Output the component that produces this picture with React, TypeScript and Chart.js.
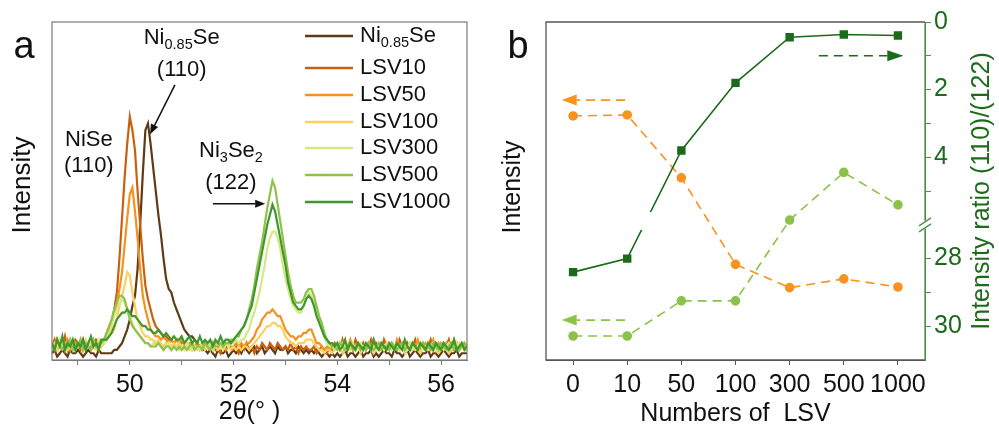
import React, { useEffect, useRef } from "react";
import { Chart, registerables } from "chart.js";

Chart.register(...registerables);

const FONT = '"Liberation Sans", Arimo, Arial, sans-serif';

// ---------------- Panel a : XRD patterns (2θ from 48.5°, step 0.05°) ----------------
const thetaStart = 48.5;
const thetaStep = 0.05;

const ni085Se = [
  2, 3, 1, 2, 3, 2, 1, 3, 2, 2,
  3, 2, 1, 2, 3, 2, 2, 1, 3, 2,
  2, 2, 2, 2, 3, 3, 4, 5, 7, 9,
  12, 16, 19, 27, 40, 55, 68, 70, 64, 57,
  50, 43, 37, 30, 24, 21, 20, 17, 15, 13,
  11, 9, 8, 7, 7, 6, 5, 4, 3, 3,
  2, 3, 2, 1, 3, 2, 2, 3, 1, 2,
  3, 2, 3, 2, 4, 3, 2, 3, 4, 2,
  3, 4, 2, 3, 4, 3, 2, 4, 3, 3,
  4, 2, 3, 3, 2, 4, 3, 2, 3, 2,
  3, 2, 3, 2, 1, 2, 2, 1, 2, 1,
  2, 1, 2, 3, 1, 2, 2, 1, 2, 3,
  1, 2, 2, 3, 1, 2, 1, 2, 3, 2,
  2, 1, 3, 2, 2, 1, 2, 3, 1, 2,
  3, 2, 1, 2, 2, 3, 1, 2, 2, 1,
  2, 3, 2, 1, 2, 2, 3, 1, 2, 2,
  2,
];
const lsv10 = [
  4, 6, 3, 5, 4, 7, 3, 5, 4, 6,
  5, 3, 6, 4, 5, 3, 4, 6, 5, 4,
  5, 6, 8, 11, 15, 20, 30, 42, 54, 64,
  72, 68, 62, 50, 40, 30, 22, 18, 15, 12,
  10, 9, 8, 7, 7, 6, 6, 5, 6, 5,
  5, 4, 5, 4, 3, 4, 5, 3, 4, 3,
  4, 3, 5, 3, 4, 2, 4, 3, 5, 3,
  3, 4, 2, 4, 3, 5, 3, 4, 2, 4,
  3, 5, 4, 3, 5, 4, 3, 5, 4, 3,
  4, 3, 5, 3, 4, 2, 4, 3, 4, 3,
  3, 4, 2, 3, 4, 3, 2, 4, 3, 5,
  4, 3, 6, 3, 4, 5, 3, 6, 4, 3,
  5, 3, 4, 6, 3, 5, 4, 3, 6, 4,
  3, 5, 4, 3, 6, 4, 3, 5, 3, 4,
  6, 3, 4, 5, 3, 4, 6, 3, 5, 4,
  3, 5, 4, 6, 3, 4, 5, 3, 4, 5,
  4,
];
const lsv50 = [
  5, 3, 6, 4, 5, 4, 6, 3, 5, 4,
  4, 6, 3, 5, 4, 6, 4, 5, 3, 5,
  6, 7, 9, 11, 14, 17, 21, 26, 34, 42,
  49, 51, 44, 36, 27, 19, 15, 12, 9, 8,
  7, 7, 6, 7, 6, 5, 6, 5, 6, 5,
  6, 5, 4, 5, 5, 4, 5, 4, 5, 4,
  4, 5, 3, 5, 4, 4, 5, 3, 4, 4,
  4, 5, 4, 5, 4, 5, 5, 6, 7, 9,
  10, 12, 13, 14, 14, 15, 14, 13, 13, 11,
  9, 8, 7, 7, 6, 7, 7, 8, 8, 9,
  9, 7, 5, 5, 4, 3, 4, 3, 4, 3,
  3, 4, 5, 3, 4, 6, 3, 4, 5, 3,
  4, 3, 5, 4, 6, 3, 4, 5, 3, 4,
  5, 4, 3, 6, 4, 5, 3, 4, 5, 3,
  4, 6, 3, 4, 5, 3, 4, 6, 3, 5,
  4, 3, 5, 4, 3, 6, 4, 3, 5, 4,
  3,
];
const lsv100 = [
  4, 5, 3, 6, 4, 5, 3, 4, 5, 3,
  5, 4, 3, 5, 4, 6, 4, 3, 5, 4,
  5, 6, 7, 8, 9, 12, 16, 19, 22, 26,
  25, 20, 16, 12, 10, 8, 7, 7, 6, 6,
  5, 6, 5, 4, 5, 5, 4, 5, 4, 5,
  4, 5, 4, 3, 5, 4, 3, 4, 5, 3,
  4, 3, 5, 4, 3, 4, 3, 5, 4, 3,
  4, 3, 4, 3, 4, 4, 3, 4, 5, 6,
  7, 8, 9, 10, 10, 11, 11, 10, 10, 9,
  7, 6, 5, 5, 4, 5, 5, 5, 6, 6,
  6, 5, 4, 3, 3, 2, 3, 3, 2, 3,
  3, 4, 2, 3, 4, 3, 5, 3, 4, 2,
  4, 3, 5, 3, 2, 4, 3, 4, 3, 5,
  3, 4, 3, 5, 3, 4, 2, 3, 4, 3,
  4, 3, 2, 4, 3, 5, 3, 4, 3, 2,
  3, 4, 3, 2, 4, 3, 5, 3, 4, 3,
  3,
];
const lsv300 = [
  4, 3, 5, 4, 6, 3, 5, 4, 3, 5,
  4, 5, 3, 6, 4, 3, 5, 4, 6, 4,
  5, 6, 8, 10, 13, 15, 17, 18, 17, 15,
  13, 11, 9, 8, 7, 6, 5, 5, 4, 5,
  4, 5, 4, 3, 4, 5, 3, 4, 4, 3,
  4, 3, 5, 4, 3, 4, 4, 3, 5, 4,
  4, 5, 3, 4, 5, 4, 3, 5, 4, 5,
  5, 6, 5, 6, 6, 8, 9, 12, 14, 17,
  20, 24, 28, 33, 36, 38, 38, 36, 33, 28,
  24, 21, 18, 16, 15, 14, 14, 16, 18, 20,
  19, 17, 14, 12, 9, 7, 5, 4, 4, 3,
  4, 3, 5, 4, 3, 5, 4, 3, 4, 5,
  3, 4, 5, 3, 4, 3, 5, 4, 3, 4,
  5, 3, 4, 4, 3, 5, 4, 3, 5, 4,
  3, 4, 5, 3, 4, 3, 4, 5, 3, 4,
  4, 3, 4, 5, 3, 4, 3, 5, 4, 3,
  4,
];
const lsv500 = [
  5, 3, 6, 4, 3, 5, 4, 6, 3, 5,
  4, 6, 3, 5, 4, 3, 6, 4, 5, 5,
  6, 8, 10, 12, 15, 17, 19, 19, 18, 15,
  12, 10, 9, 8, 7, 6, 5, 5, 4, 4,
  4, 5, 4, 3, 4, 4, 3, 4, 3, 4,
  3, 4, 3, 4, 5, 3, 4, 4, 3, 5,
  4, 3, 5, 4, 4, 5, 4, 5, 5, 6,
  6, 7, 7, 9, 10, 12, 15, 18, 22, 27,
  31, 35, 40, 45, 49, 53, 51, 46, 41, 36,
  31, 26, 22, 19, 17, 17, 17, 18, 20, 21,
  21, 19, 16, 13, 11, 8, 6, 5, 4, 4,
  3, 5, 4, 3, 4, 5, 3, 4, 5, 3,
  4, 3, 5, 4, 3, 4, 5, 3, 4, 4,
  3, 5, 4, 3, 4, 5, 3, 4, 3, 5,
  4, 3, 4, 5, 3, 4, 3, 5, 4, 3,
  5, 4, 3, 4, 5, 3, 4, 3, 4, 5,
  4,
];
const lsv1000 = [
  5, 3, 6, 4, 7, 3, 5, 4, 6, 3,
  5, 4, 6, 3, 5, 7, 4, 5, 3, 6,
  6, 6, 7, 8, 10, 12, 13, 14, 14, 15,
  14, 13, 13, 12, 11, 10, 10, 9, 9, 8,
  8, 9, 8, 7, 8, 7, 6, 7, 6, 6,
  7, 5, 6, 7, 5, 6, 5, 7, 5, 6,
  5, 6, 4, 6, 5, 7, 5, 6, 6, 5,
  6, 7, 8, 9, 10, 12, 14, 16, 20, 24,
  28, 32, 36, 40, 43, 46, 44, 40, 36, 32,
  28, 23, 20, 17, 16, 15, 15, 16, 18, 19,
  18, 16, 13, 11, 9, 7, 6, 5, 5, 4,
  5, 3, 4, 6, 3, 5, 4, 3, 5, 4,
  3, 5, 4, 3, 6, 4, 3, 5, 4, 3,
  5, 4, 3, 5, 4, 3, 6, 4, 3, 5,
  4, 3, 5, 4, 3, 5, 4, 3, 5, 4,
  3, 5, 4, 3, 4, 6, 3, 4, 5, 3,
  4,
];

const xrdSeries = [ni085Se, lsv10, lsv50, lsv100, lsv300, lsv500, lsv1000];
const xrdNames = ["Ni0.85Se", "LSV10", "LSV50", "LSV100", "LSV300", "LSV500", "LSV1000"];
const xrdColors = ["#5e3b16", "#c8610f", "#f3921f", "#fdd161", "#d6e784", "#8fc14c", "#3f982c"];
const xrdLegend: [string, boolean][][] = [
  [["Ni", false], ["0.85", true], ["Se", false]],
  [["LSV10", false]],
  [["LSV50", false]],
  [["LSV100", false]],
  [["LSV300", false]],
  [["LSV500", false]],
  [["LSV1000", false]],
];
const xrdTicks = [49, 50, 51, 52, 53, 54, 55, 56];

// ---------------- Panel b ----------------
const lsvCounts = ["0", "10", "50", "100", "300", "500", "1000"];
const intensity110 = [72.2, 72.5, 53.9, 28.3, 21.4, 24.0, 21.6]; // NiSe (110), left axis
const intensity122 = [7.1, 7.1, 17.5, 17.5, 41.4, 55.5, 45.9]; // Ni3Se2 (122), left axis
const intensityRatio = [28.4, 28.0, 3.8, 1.8, 0.45, 0.37, 0.4]; // (110)/(122), right axis
const ratioTickValues = [0, 1, 2, 3, 4, 5, 28, 29, 30];
const ratioTickLabels = [0, 2, 4, 28, 30];
const BREAK_UPPER = 6; // upper segment 0..6
const BREAK_LOWER = 27; // lower segment 27..31
const toAxis = (v: number) => (v >= BREAK_LOWER ? v - (BREAK_LOWER - BREAK_UPPER) : v);
const fromAxis = (a: number) => (a > BREAK_UPPER ? a + (BREAK_LOWER - BREAK_UPPER) : a);

const ORANGE = "#f7931e";
const LGREEN = "#8cc24a";
const DGREEN = "#1b6b1b";
const AXGREEN = "#4b924b";

type Part = [string, boolean];

function drawRich(ctx: CanvasRenderingContext2D, parts: Part[], x: number, y: number, size: number, align: "left" | "center", color: string) {
  const sub = size * 0.66;
  const widths = parts.map(([t, s]) => {
    ctx.font = `${s ? sub : size}px ${FONT}`;
    return ctx.measureText(t).width;
  });
  const total = widths.reduce((a, b) => a + b, 0);
  let cx = align === "center" ? x - total / 2 : x;
  ctx.textAlign = "left";
  ctx.textBaseline = "middle";
  ctx.fillStyle = color;
  parts.forEach(([t, s], i) => {
    ctx.font = `${s ? sub : size}px ${FONT}`;
    ctx.fillText(t, cx, s ? y + size * 0.32 : y);
    cx += widths[i];
  });
}

function drawArrow(
  ctx: CanvasRenderingContext2D,
  x1: number, y1: number, x2: number, y2: number,
  color: string, dash: number[], headLen: number, headHalf: number, lw: number
) {
  const ang = Math.atan2(y2 - y1, x2 - x1);
  const bx = x2 - Math.cos(ang) * headLen;
  const by = y2 - Math.sin(ang) * headLen;
  ctx.save();
  ctx.strokeStyle = color;
  ctx.fillStyle = color;
  ctx.lineWidth = lw;
  ctx.setLineDash(dash);
  ctx.beginPath();
  ctx.moveTo(x1, y1);
  ctx.lineTo(bx, by);
  ctx.stroke();
  ctx.setLineDash([]);
  ctx.beginPath();
  ctx.moveTo(x2, y2);
  ctx.lineTo(bx + Math.sin(ang) * headHalf, by - Math.cos(ang) * headHalf);
  ctx.lineTo(bx - Math.sin(ang) * headHalf, by + Math.cos(ang) * headHalf);
  ctx.closePath();
  ctx.fill();
  ctx.restore();
}

function rotatedText(ctx: CanvasRenderingContext2D, text: string, x: number, y: number, size: number, color: string) {
  ctx.save();
  ctx.translate(x, y);
  ctx.rotate(-Math.PI / 2);
  ctx.font = `${size}px ${FONT}`;
  ctx.fillStyle = color;
  ctx.textAlign = "center";
  ctx.textBaseline = "middle";
  ctx.fillText(text, 0, 0);
  ctx.restore();
}

const panelAPlugin = {
  id: "panelA",
  afterDraw(chart: any) {
    const { ctx, chartArea: ca, scales } = chart;
    const xs = scales.x;
    const ys = scales.y;
    ctx.save();
    ctx.strokeStyle = "#7a7a7a";
    ctx.lineWidth = 1.2;
    ctx.strokeRect(ca.left, ca.top, ca.right - ca.left, ca.bottom - ca.top);

    // axis titles & panel letter
    rotatedText(ctx, "Intensity", 23, 185, 26, "#111");
    ctx.font = `25px ${FONT}`;
    ctx.fillStyle = "#111";
    ctx.textAlign = "center";
    ctx.textBaseline = "middle";
    ctx.fillText("2θ(° )", (ca.left + ca.right) / 2 - 10, 412);
    ctx.font = `38px ${FONT}`;
    ctx.fillText("a", 24, 48);

    // legend
    const rows = [36, 68, 95, 122, 148, 175, 202];
    xrdLegend.forEach((parts, i) => {
      ctx.strokeStyle = xrdColors[i];
      ctx.lineWidth = 2.4;
      ctx.beginPath();
      ctx.moveTo(ca.right - 162, rows[i]);
      ctx.lineTo(ca.right - 114, rows[i]);
      ctx.stroke();
      drawRich(ctx, parts, ca.right - 107, rows[i], 22, "left", "#111");
    });

    // peak annotations
    const px = (v: number) => xs.getPixelForValue(v);
    const py = (v: number) => ys.getPixelForValue(v);
    drawRich(ctx, [["NiSe", false]], px(49.21), py(65), 22, "center", "#111");
    drawRich(ctx, [["(110)", false]], px(49.21), py(57.5), 22, "center", "#111");
    drawRich(ctx, [["Ni", false], ["0.85", true], ["Se", false]], px(51.0), py(95.3), 22, "center", "#111");
    drawRich(ctx, [["(110)", false]], px(51.0), py(85.8), 22, "center", "#111");
    drawArrow(ctx, px(50.87), py(81.4), px(50.39), py(66.8), "#111", [], 10, 4, 1.5);
    drawRich(ctx, [["Ni", false], ["3", true], ["Se", false], ["2", true]], px(51.95), py(61.8), 22, "center", "#111");
    drawRich(ctx, [["(122)", false]], px(51.95), py(52.4), 22, "center", "#111");
    drawArrow(ctx, px(51.6), py(46.2), px(52.61), py(46.2), "#111", [], 10, 4, 1.5);
    ctx.restore();
  },
};

const panelBPlugin = {
  id: "panelB",
  afterDatasetsDraw(chart: any) {
    const { ctx, scales } = chart;
    const xs = scales.x;
    const y2 = scales.y2;
    // gap of the broken axis on the ratio line
    ctx.save();
    ctx.fillStyle = "#ffffff";
    const xa = xs.getPixelForValue(1) + 4;
    const xb = xs.getPixelForValue(2) - 4;
    const ya = y2.getPixelForValue(5.62);
    const yb = y2.getPixelForValue(6.15);
    ctx.fillRect(xa, ya, xb - xa, yb - ya);
    ctx.restore();
  },
  afterDraw(chart: any) {
    const { ctx, chartArea: ca, scales } = chart;
    const xs = scales.x;
    const y = scales.y;
    const y2 = scales.y2;
    ctx.save();
    // frame
    ctx.lineWidth = 1.3;
    ctx.strokeStyle = "#555";
    ctx.beginPath();
    ctx.moveTo(ca.right, ca.top);
    ctx.lineTo(ca.left, ca.top);
    ctx.lineTo(ca.left, ca.bottom);
    ctx.lineTo(ca.right, ca.bottom);
    ctx.stroke();
    ctx.strokeStyle = AXGREEN;
    ctx.beginPath();
    ctx.moveTo(ca.right, ca.top);
    ctx.lineTo(ca.right, ca.bottom);
    ctx.stroke();

    // axis break marks
    const yb = y2.getPixelForValue(BREAK_UPPER);
    ctx.fillStyle = "#fff";
    ctx.fillRect(ca.right - 3, yb - 4, 6, 8);
    ctx.strokeStyle = AXGREEN;
    ctx.lineWidth = 1.4;
    [-3, 3].forEach((d) => {
      ctx.beginPath();
      ctx.moveTo(ca.right - 6, yb + d + 4);
      ctx.lineTo(ca.right + 6, yb + d - 4);
      ctx.stroke();
    });

    // arrows
    drawArrow(ctx, xs.getPixelForValue(0.96), y.getPixelForValue(76.9), xs.getPixelForValue(-0.21), y.getPixelForValue(76.9), ORANGE, [9, 6], 15, 5.5, 1.6);
    drawArrow(ctx, xs.getPixelForValue(0.96), y.getPixelForValue(11.8), xs.getPixelForValue(-0.21), y.getPixelForValue(11.8), LGREEN, [9, 6], 15, 5.5, 1.6);
    drawArrow(ctx, xs.getPixelForValue(4.54), y2.getPixelForValue(1.0), xs.getPixelForValue(6.1), y2.getPixelForValue(1.0), DGREEN, [9, 6], 16, 5.5, 1.6);

    // titles
    rotatedText(ctx, "Intensity", 23, 187, 25, "#111");
    rotatedText(ctx, "Intensity ratio (110)/(122)", 492, 191, 25, DGREEN);
    ctx.font = `25px ${FONT}`;
    ctx.fillStyle = "#111";
    ctx.textAlign = "center";
    ctx.textBaseline = "middle";
    ctx.fillText("Numbers of  LSV", (ca.left + ca.right) / 2, 414);
    ctx.font = `38px ${FONT}`;
    ctx.fillText("b", 28, 48);
    ctx.restore();
  },
};

function PanelA() {
  const ref = useRef<HTMLCanvasElement>(null);
  useEffect(() => {
    if (!ref.current) return;
    const datasets = xrdSeries.map((vals, i) => ({
      label: xrdNames[i],
      data: vals.map((v, k) => ({ x: +(thetaStart + k * thetaStep).toFixed(2), y: v })),
      borderColor: xrdColors[i],
      backgroundColor: xrdColors[i],
      borderWidth: 2.2,
      pointRadius: 0,
      tension: 0,
      order: xrdSeries.length - 1 - i,
    }));
    const chart = new Chart(ref.current, {
      type: "line",
      data: { datasets },
      options: {
        responsive: false,
        animation: false,
        layout: { padding: { left: 52, right: 23, top: 22, bottom: 0 } },
        plugins: { legend: { display: false }, tooltip: { enabled: false } },
        scales: {
          x: {
            type: "linear",
            min: 48.5,
            max: 56.5,
            afterBuildTicks: (s: any) => {
              s.ticks = xrdTicks.map((v) => ({ value: v }));
            },
            afterFit: (s: any) => {
              s.height = 70;
            },
            grid: { drawOnChartArea: false, tickLength: 5, color: "#7a7a7a" },
            border: { color: "#7a7a7a" },
            ticks: {
              autoSkip: false,
              maxRotation: 0,
              padding: 5,
              color: "#111",
              font: { size: 25, family: FONT },
              callback: (v: any) => (Number(v) % 2 === 0 ? String(v) : ""),
            },
          },
          y: { display: false, min: 0, max: 100 },
        },
      },
      plugins: [panelAPlugin],
    });
    return () => chart.destroy();
  }, []);
  return <canvas ref={ref} width={490} height={430} style={{ position: "absolute", left: 0, top: 0 }} />;
}

function PanelB() {
  const ref = useRef<HTMLCanvasElement>(null);
  useEffect(() => {
    if (!ref.current) return;
    const chart = new Chart(ref.current, {
      type: "line",
      data: {
        labels: lsvCounts,
        datasets: [
          {
            label: "Intensity ratio",
            data: intensityRatio.map(toAxis),
            yAxisID: "y2",
            borderColor: DGREEN,
            backgroundColor: DGREEN,
            borderWidth: 1.6,
            pointStyle: "rect",
            pointRadius: 4.8,
            tension: 0,
          },
          {
            label: "NiSe (110)",
            data: intensity110,
            yAxisID: "y",
            borderColor: ORANGE,
            backgroundColor: ORANGE,
            borderWidth: 1.6,
            borderDash: [9, 6],
            pointRadius: 4,
            tension: 0,
          },
          {
            label: "Ni3Se2 (122)",
            data: intensity122,
            yAxisID: "y",
            borderColor: LGREEN,
            backgroundColor: LGREEN,
            borderWidth: 1.6,
            borderDash: [9, 6],
            pointRadius: 4,
            tension: 0,
          },
        ],
      },
      options: {
        responsive: false,
        animation: false,
        layout: { padding: { left: 56, right: 0, top: 22, bottom: 0 } },
        plugins: { legend: { display: false }, tooltip: { enabled: false } },
        scales: {
          x: {
            type: "category",
            offset: true,
            afterFit: (s: any) => {
              s.height = 70;
            },
            grid: { drawOnChartArea: false, tickLength: 5, color: "#555", offset: false },
            border: { color: "#555" },
            ticks: { padding: 5, color: "#111", maxRotation: 0, autoSkip: false, font: { size: 25, family: FONT } },
          },
          y: { display: false, min: 0, max: 100 },
          y2: {
            position: "right",
            reverse: true,
            min: 0,
            max: 10,
            afterBuildTicks: (s: any) => {
              s.ticks = ratioTickValues.map((v) => ({ value: toAxis(v) }));
            },
            afterFit: (s: any) => {
              s.width = 74;
            },
            grid: { drawOnChartArea: false, tickLength: 6, color: AXGREEN },
            border: { color: AXGREEN },
            ticks: {
              padding: 3,
              color: DGREEN,
              font: { size: 25, family: FONT },
              callback: (v: any) => {
                const r = Math.round(fromAxis(Number(v)));
                return ratioTickLabels.includes(r) ? String(r) : "";
              },
            },
          },
        },
      },
      plugins: [panelBPlugin],
    });
    return () => chart.destroy();
  }, []);
  return <canvas ref={ref} width={509} height={430} style={{ position: "absolute", left: 490, top: 0 }} />;
}

export default function App() {
  return (
    <div style={{ position: "fixed", left: 0, top: 0, width: 999, height: 430, background: "#fff", overflow: "hidden" }}>
      <PanelA />
      <PanelB />
    </div>
  );
}
